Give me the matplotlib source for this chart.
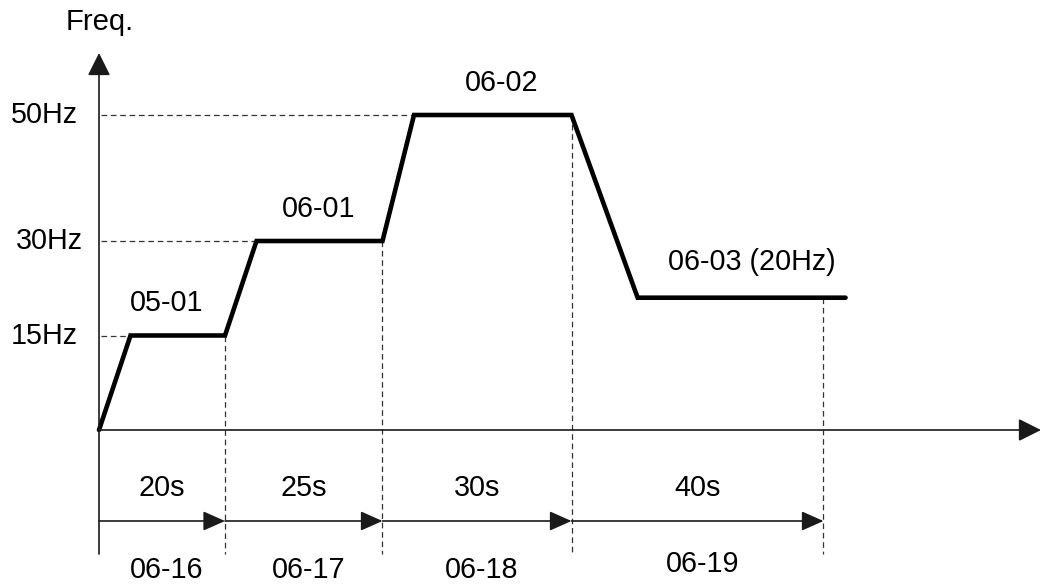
import matplotlib
matplotlib.use("Agg")
import matplotlib.pyplot as plt
import numpy as np

plt.rcParams['font.family'] = ['Liberation Sans', 'DejaVu Sans']

# ---- data ----
times = [0, 5, 20, 25, 45, 50, 75, 85.5, 118.5]          # s
freqs = [0, 15, 15, 30, 30, 50, 50, 21, 21]              # Hz (drawn level)
level_values = [15, 30, 50]
level_labels = ["15Hz", "30Hz", "50Hz"]
level_ramp_end = [5, 25, 50]
step_labels = ["05-01", "06-01", "06-02", "06-03 (20Hz)"]
seg_durations = [20, 25, 30, 40]
seg_time_labels = ["20s", "25s", "30s", "40s"]
seg_param_labels = ["06-16", "06-17", "06-18", "06-19"]
seg_levels = [15, 30, 50, 21]

# ---- layout ----
W, H, DPI = 1042, 588, 100
S = 6.3            # px per unit
X0, Y0 = 99, 430   # origin in pixels
FS = 20.7

def px(x, y):
    return (x - X0) / S, (Y0 - y) / S

fig = plt.figure(figsize=(W / DPI, H / DPI), dpi=DPI)
ax = fig.add_axes([0, 0, 1, 1])
ax.set_xlim(-X0 / S, (W - X0) / S)
ax.set_ylim((Y0 - H) / S, Y0 / S)
ax.axis('off')

axc = '#1a1a1a'
dash = dict(color='#333333', lw=0.9, dashes=(4.5, 3))

seg_ends = np.cumsum(seg_durations)
t_bottom = px(0, 554)[1]

# axes with arrows
def arrow(x0, y0, x1, y1, lw=1.2, hl=1.4, hw=0.65):
    ax.annotate("", xy=(x1, y1), xytext=(x0, y0),
                arrowprops=dict(arrowstyle=f"-|>,head_length={hl},head_width={hw}",
                                color=axc, lw=lw, shrinkA=0, shrinkB=0,
                                mutation_scale=10))

arrow(0, t_bottom, 0, px(0, 53)[1], hl=1.4, hw=0.7)
arrow(0, 0, px(1041, 0)[0], 0, hl=1.4, hw=0.7)

# dashed horizontal reference lines
for v, te in zip(level_values, level_ramp_end):
    ax.plot([px(101, 0)[0], te], [v, v], **dash)

# dashed vertical lines at segment ends
for te, lv in zip(seg_ends, seg_levels):
    ax.plot([te, te], [lv, t_bottom], **dash)

# frequency profile
ax.plot(times, freqs, color='black', lw=3.3, solid_joinstyle='miter',
        solid_capstyle='round')

# time arrows row
y_arr = px(0, 521)[1]
starts = np.concatenate([[0], seg_ends[:-1]])
for s0, s1 in zip(starts, seg_ends):
    arrow(s0, y_arr, s1, y_arr, lw=1.2, hl=1.35, hw=0.6)

# level labels
lx = [11, 16, 11]
for v, lab, x in zip(level_values, level_labels, lx):
    ax.text(px(x, 0)[0], v, lab, ha='left', va='center', fontsize=FS)

ax.text(*px(100, 22), "Freq.", ha='center', va='center', fontsize=FS + 0.4)

# step labels
step_pos = [(167, 303), (319, 209), (502, 83), (752, 262)]
for lab, (x, y) in zip(step_labels, step_pos):
    ax.text(*px(x, y), lab, ha='center', va='center', fontsize=FS)

# segment labels
y_t = px(0, 488)[1]
y_p = px(0, 570)[1]
for i, (s0, s1) in enumerate(zip(starts, seg_ends)):
    mid = (s0 + s1) / 2
    ax.text(mid, y_t, seg_time_labels[i], ha='center', va='center', fontsize=FS)
    yp = y_p if i < 3 else px(0, 564)[1]
    ax.text(mid + 0.8, yp, seg_param_labels[i], ha='center', va='center', fontsize=FS)

fig.savefig("out.png", dpi=DPI)
